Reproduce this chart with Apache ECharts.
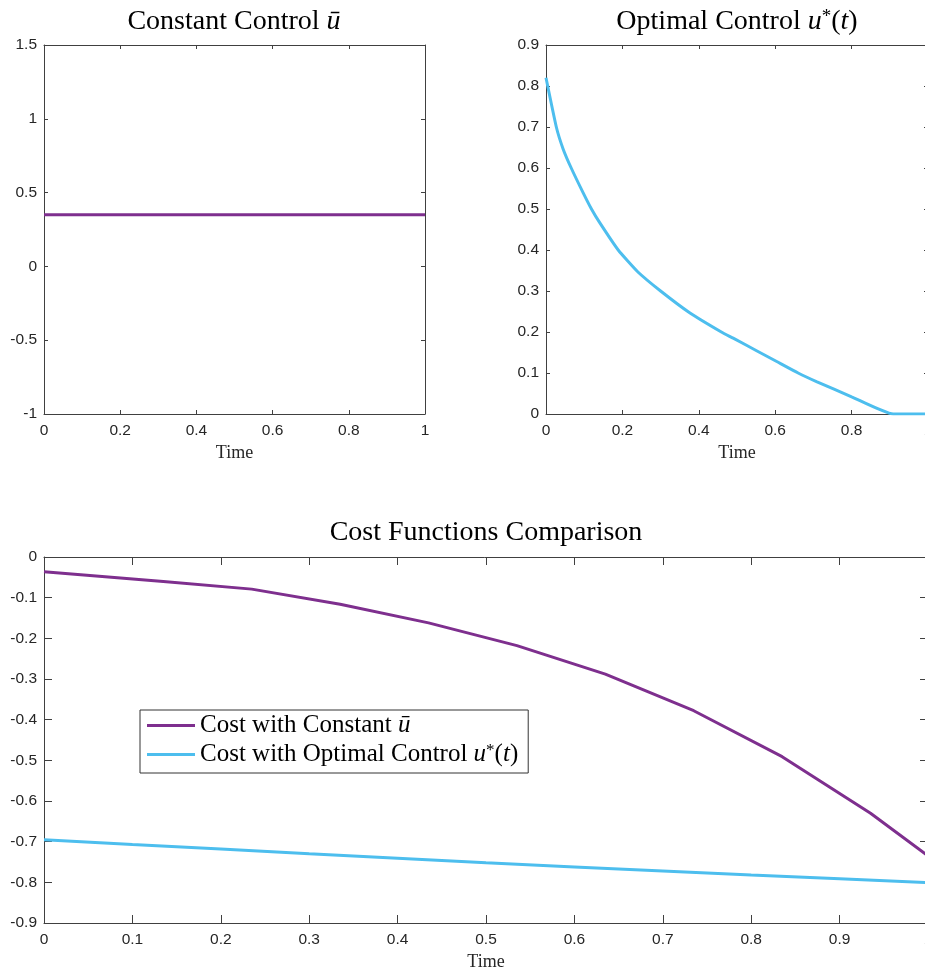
<!DOCTYPE html>
<html>
<head>
<meta charset="utf-8">
<script src="https://cdn.jsdelivr.net/npm/echarts@6/dist/echarts.min.js"></script>
<style>
  html, body { margin: 0; padding: 0; background: #fff; overflow: hidden; }
  #chart { width: 925px; height: 970px; }
</style>
</head>
<body>
<div id="chart"></div>
<script>
// Constant control ū over time
const constTime = [0, 1];
const constControl = [0.35, 0.35];

// Optimal control u*(t)
const optTime = [0, 0.027, 0.045, 0.066, 0.097, 0.119, 0.141, 0.189, 0.24, 0.30, 0.376, 0.459, 0.49, 0.55, 0.604, 0.66, 0.708, 0.8, 0.909, 1.0];
const optControl = [0.82, 0.70, 0.646, 0.60, 0.54, 0.50, 0.466, 0.40, 0.347, 0.30, 0.247, 0.20, 0.185, 0.155, 0.128, 0.10, 0.079, 0.042, 0, 0];

// Cost functions
const costConstTime = [0, 0.135, 0.235, 0.335, 0.435, 0.535, 0.635, 0.735, 0.835, 0.935, 1.0];
const costConstValue = [-0.036, -0.060, -0.079, -0.116, -0.162, -0.218, -0.288, -0.378, -0.491, -0.630, -0.735];
const costOptTime = [0, 0.1, 0.2, 0.3, 0.4, 0.5, 0.6, 0.7, 0.8, 0.9, 1.0];
const costOptValue = [-0.695, -0.707, -0.718, -0.730, -0.741, -0.752, -0.762, -0.772, -0.782, -0.791, -0.801];

// Legend entries
const legendNames = ['Cost with Constant ū', 'Cost with Optimal Control u*(t)'];

const PURPLE = '#7E2F8E';
const BLUE = '#4DBEEE';
const AXIS = '#404040';
const TEXT = '#262626';
const SANS = '"Liberation Sans", Arial, Helvetica, sans-serif';
const SERIF = '"Liberation Serif", "Times New Roman", serif';
const LINE_W = 3;

const zip = (xs, ys) => xs.map((x, i) => [x, ys[i]]);

function xAxes(gridIndex, interval, tickLen) {
  const base = {
    gridIndex, type: 'value', min: 0, max: 1, interval,
    splitLine: { show: false },
    axisLine: { show: true, onZero: false, lineStyle: { color: AXIS, width: 1 } },
    axisTick: { show: true, inside: true, length: tickLen, lineStyle: { color: AXIS, width: 1 } }
  };
  return [
    Object.assign({}, base, {
      position: 'bottom',
      axisLabel: { show: true, margin: 9, color: TEXT, fontFamily: SANS, fontSize: 15.5, showMaxLabel: true, showMinLabel: true, hideOverlap: false },
      name: 'Time',
      nameLocation: 'middle',
      nameGap: 30,
      nameTextStyle: { fontFamily: SERIF, fontSize: 18, color: TEXT }
    }),
    Object.assign({}, base, { position: 'top', axisLabel: { show: false } })
  ];
}

function yAxes(gridIndex, min, max, interval, tickLen) {
  const base = {
    gridIndex, type: 'value', min, max, interval,
    splitLine: { show: false },
    axisLine: { show: true, onZero: false, lineStyle: { color: AXIS, width: 1 } },
    axisTick: { show: true, inside: true, length: tickLen, lineStyle: { color: AXIS, width: 1 } }
  };
  return [
    Object.assign({}, base, {
      position: 'left',
      axisLabel: { show: true, margin: 7, color: TEXT, fontFamily: SANS, fontSize: 15.5, showMaxLabel: true, showMinLabel: true, hideOverlap: false }
    }),
    Object.assign({}, base, { position: 'right', axisLabel: { show: false } })
  ];
}

const chart = echarts.init(document.getElementById('chart'), null, { renderer: 'canvas' });

const titleStyle = { fontFamily: SERIF, fontSize: 28, fontWeight: 'normal', color: '#000', rich: {
  it: { fontFamily: SERIF, fontStyle: 'italic', fontSize: 28, color: '#000' },
  sup: { fontFamily: SERIF, fontSize: 19, color: '#000', verticalAlign: 'top' }
} };

chart.setOption({
  animation: false,
  backgroundColor: '#fff',
  title: [
    { text: 'Constant Control {it|ū}', left: 234, top: 8, textAlign: 'center', padding: 0, textStyle: titleStyle },
    { text: 'Optimal Control {it|u}{sup|*}({it|t})', left: 737, top: 8, textAlign: 'center', padding: 0, textStyle: titleStyle },
    { text: 'Cost Functions Comparison', left: 486, top: 519, textAlign: 'center', padding: 0, textStyle: titleStyle }
  ],
  grid: [
    { left: 44, top: 45, width: 381, height: 369, outerBoundsMode: 'none', containLabel: false },
    { left: 546, top: 45, width: 382, height: 369, outerBoundsMode: 'none', containLabel: false },
    { left: 44, top: 557, width: 884, height: 366, outerBoundsMode: 'none', containLabel: false }
  ],
  xAxis: [
    ...xAxes(0, 0.2, 4),
    ...xAxes(1, 0.2, 4),
    ...xAxes(2, 0.1, 8)
  ],
  yAxis: [
    ...yAxes(0, -1, 1.5, 0.5, 4),
    ...yAxes(1, 0, 0.9, 0.1, 4),
    ...yAxes(2, -0.9, 0, 0.1, 8)
  ],
  legend: {
    data: legendNames,
    orient: 'vertical',
    left: 140,
    top: 710,
    padding: [3, 10, 6, 7],
    itemGap: 4,
    itemWidth: 48,
    itemHeight: 3,
    icon: 'rect',
    backgroundColor: '#fff',
    borderColor: '#333',
    borderWidth: 1,
    borderRadius: 0,
    formatter: function (name) {
      return name === legendNames[0]
        ? 'Cost with Constant {it|ū}'
        : 'Cost with Optimal Control {it|u}{sup|*}({it|t})';
    },
    textStyle: {
      fontFamily: SERIF, fontSize: 25, color: '#000', lineHeight: 24,
      rich: {
        it: { fontFamily: SERIF, fontStyle: 'italic', fontSize: 25, color: '#000', lineHeight: 24 },
        sup: { fontFamily: SERIF, fontSize: 17, color: '#000', verticalAlign: 'top', lineHeight: 24 }
      }
    }
  },
  series: [
    {
      type: 'line', name: 'Constant ū', xAxisIndex: 0, yAxisIndex: 0,
      data: zip(constTime, constControl), symbol: 'none',
      lineStyle: { color: PURPLE, width: LINE_W }, itemStyle: { color: PURPLE }
    },
    {
      type: 'line', name: 'Optimal u*(t)', xAxisIndex: 2, yAxisIndex: 2,
      data: zip(optTime, optControl), symbol: 'none', smooth: 0.15,
      lineStyle: { color: BLUE, width: LINE_W }, itemStyle: { color: BLUE }
    },
    {
      type: 'line', name: legendNames[0], xAxisIndex: 4, yAxisIndex: 4,
      data: zip(costConstTime, costConstValue), symbol: 'none',
      lineStyle: { color: PURPLE, width: LINE_W }, itemStyle: { color: PURPLE }
    },
    {
      type: 'line', name: legendNames[1], xAxisIndex: 4, yAxisIndex: 4,
      data: zip(costOptTime, costOptValue), symbol: 'none',
      lineStyle: { color: BLUE, width: LINE_W }, itemStyle: { color: BLUE }
    }
  ]
});
</script>
</body>
</html>
